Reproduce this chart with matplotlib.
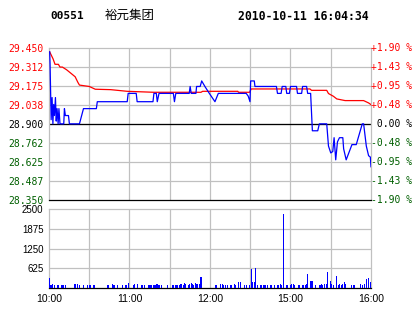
import matplotlib
matplotlib.use("Agg")
import matplotlib.pyplot as plt
from matplotlib.transforms import blended_transform_factory

# ---------------- data ----------------
title_code = "00551"
title_name = "裕元集团"
title_time = "2010-10-11 16:04:34"
prev_close = 28.90

price_ticks = [28.350, 28.487, 28.625, 28.762, 28.900, 29.038, 29.175, 29.312, 29.450]
price_labels = ["28.350", "28.487", "28.625", "28.762", "28.900",
                "29.038", "29.175", "29.312", "29.450"]
pct_labels = ["-1.90 %", "-1.43 %", "-0.95 %", "-0.48 %", " 0.00 %",
              "+0.48 %", "+0.95 %", "+1.43 %", "+1.90 %"]

vol_ticks = [625, 1250, 1875, 2500]
vol_tick_labels = ["625", "1250", "1875", "2500"]

time_ticks = [0, 60, 120, 180, 240]
time_labels = ["10:00", "11:00", "12:00", "15:00", "16:00"]

# minutes of trading since 10:00 (lunch removed)
price_t = [0.5, 0.8, 1.6, 2.3, 2.9, 3.5, 4.1, 4.8, 5.4, 6.0, 6.8, 7.4, 8.2, 11.0,
           11.5, 12.2, 14.5, 15.2, 22.7, 25.7, 35.3, 36.0, 58.3, 59.0, 65.0, 65.7,
           77.5, 78.2, 80.0, 80.7, 82.0, 92.7, 93.5, 94.5, 104.5, 105.2, 106.0,
           109.5, 110.0, 112.7, 113.8, 116.2, 119.5, 123.7, 126.2, 147.0, 148.5,
           149.8, 150.3, 153.0, 153.5, 169.5, 170.3, 173.0, 173.8, 176.5, 177.2,
           179.2, 180.0, 184.5, 185.2, 188.3, 189.0, 192.0, 192.8, 195.0, 196.3,
           200.3, 201.5, 207.0, 208.3, 210.0, 211.5, 212.5, 213.7, 215.0, 216.5,
           219.0, 219.6, 221.5, 225.8, 229.0, 233.5, 234.5, 236.5, 238.2, 239.5,
           240.0]
price_v = [29.42, 29.33, 28.93, 29.09, 28.90, 29.04, 28.96, 29.09, 28.92, 29.01,
           28.90, 29.01, 28.90, 28.90, 29.01, 28.96, 28.96, 28.90, 28.90, 29.01,
           29.01, 29.06, 29.06, 29.12, 29.12, 29.06, 29.06, 29.12, 29.12, 29.06,
           29.12, 29.12, 29.06, 29.12, 29.12, 29.17, 29.12, 29.12, 29.17, 29.17,
           29.21, 29.17, 29.12, 29.06, 29.12, 29.12, 29.10, 29.06, 29.21, 29.21,
           29.17, 29.17, 29.12, 29.12, 29.17, 29.17, 29.12, 29.12, 29.17, 29.17,
           29.12, 29.12, 29.17, 29.17, 29.12, 29.12, 28.85, 28.85, 28.90, 28.90,
           28.74, 28.69, 28.70, 28.80, 28.64, 28.77, 28.80, 28.80, 28.72, 28.64,
           28.75, 28.75, 28.90, 28.90, 28.74, 28.67, 28.66, 28.59]

avg_t = [0.5, 1.5, 3.0, 4.5, 7.0, 8.2, 10.0, 13.2, 17.0, 19.5, 21.5, 22.7, 30.0,
         34.5, 46.0, 58.3, 78.2, 113.3, 114.5, 140.8, 141.2, 149.5, 150.7, 194.5,
         195.7, 207.0, 208.3, 212.0, 214.5, 220.7, 234.5, 238.2, 240.0]
avg_v = [29.42, 29.40, 29.37, 29.33, 29.33, 29.31, 29.31, 29.29, 29.26, 29.24,
         29.20, 29.18, 29.17, 29.15, 29.147, 29.135, 29.128, 29.128, 29.135,
         29.135, 29.128, 29.128, 29.152, 29.152, 29.142, 29.142, 29.119, 29.099,
         29.08, 29.068, 29.068, 29.051, 29.039]

vol_t = [0.5, 1.5, 2.5, 4, 6, 7, 9, 10, 11, 12,
         19, 20, 21, 23, 26, 29, 30, 31, 33, 34,
         44, 47, 48, 49, 51, 55, 57, 58, 59, 63,
         64, 66, 69, 70, 71, 74, 75, 76, 78, 79,
         80, 81, 82, 84, 88, 92, 93, 94, 95, 96,
         97, 98, 99, 100, 101, 102, 104, 105, 106, 107,
         108, 109, 110, 111, 112, 113.3, 124, 125, 128, 129,
         130, 131.5, 133, 135, 136, 138, 139, 141, 143, 145.5,
         147, 149.5, 150.8, 152, 153, 153.8, 155.3, 158, 160, 161,
         163, 165, 166, 168, 170, 171, 172.5, 173.3, 175, 177,
         178, 180, 181, 182, 183, 186, 187, 189, 190, 191,
         192, 192.8, 195, 196, 198.8, 202, 203, 204, 205.5, 206.5,
         207.8, 209.5, 210.3, 212, 214, 215.5, 216.5, 218, 219, 220,
         221, 225.8, 226.8, 228, 232.5, 233.5, 235, 236.5, 238.2, 239.5,
         240.3]
vol_v = [340, 110, 120, 100, 110, 100, 100, 100, 110, 100,
         150, 150, 150, 100, 100, 100, 100, 110, 110, 100,
         90, 140, 100, 100, 100, 100, 100, 110, 160, 100,
         120, 140, 110, 100, 100, 100, 100, 100, 100, 100,
         130, 120, 100, 110, 100, 100, 100, 110, 100, 100,
         110, 120, 130, 110, 160, 120, 110, 130, 170, 140,
         110, 160, 120, 130, 120, 370, 100, 100, 120, 150,
         100, 100, 100, 100, 100, 150, 100, 190, 210, 100,
         100, 100, 610, 200, 200, 650, 100, 100, 100, 100,
         100, 100, 100, 100, 100, 100, 130, 100, 2340, 100,
         100, 110, 130, 120, 100, 100, 100, 100, 100, 100,
         130, 450, 240, 240, 100, 100, 120, 100, 150, 120,
         500, 240, 150, 100, 400, 100, 120, 100, 150, 210,
         150, 100, 100, 100, 130, 100, 150, 280, 320, 200,
         150]

# ---------------- drawing ----------------
W, H = 414, 314
fig = plt.figure(figsize=(W / 100, H / 100), dpi=100)
fig.patch.set_facecolor("white")


def rect(l, t, r, b):
    return [l / W, 1 - b / H, (r - l) / W, (b - t) / H]


RED = "#ff0000"
GREEN = "#005f00"
GRID = "#c0c0c0"
MONO = "DejaVu Sans Mono"
SANS = "Liberation Sans"
LW = 0.9

axp = fig.add_axes(rect(49, 47.7, 371, 200))
axv = fig.add_axes(rect(49, 209, 371, 288.3))

for ax in (axp, axv):
    ax.set_xlim(0, 240)
    for s in ("left", "right", "top"):
        ax.spines[s].set_color(GRID)
        ax.spines[s].set_linewidth(LW)
    ax.spines["bottom"].set_color("black")
    ax.spines["bottom"].set_linewidth(LW)
    for t in range(30, 240, 30):
        ax.axvline(t, color=GRID, lw=LW, zorder=1)
    ax.tick_params(length=0)
    ax.set_xticks([])

# price panel
axp.set_ylim(price_ticks[0], price_ticks[-1])
for p in price_ticks[1:-1]:
    axp.axhline(p, color=GRID, lw=LW, zorder=1)
axp.axhline(prev_close, color="black", lw=LW, zorder=2)
axp.set_yticks(price_ticks)
axp.set_yticklabels(price_labels, family=MONO, fontsize=7)
axp.tick_params(axis="y", pad=4)
for lbl, p in zip(axp.get_yticklabels(), price_ticks):
    if p > prev_close + 1e-6:
        lbl.set_color(RED)
    elif p < prev_close - 1e-6:
        lbl.set_color(GREEN)
    else:
        lbl.set_color("black")

tr = blended_transform_factory(axp.transAxes, axp.transData)
for p, s in zip(price_ticks, pct_labels):
    c = RED if p > prev_close + 1e-6 else (GREEN if p < prev_close - 1e-6 else "black")
    axp.text(1.0, p, s, transform=tr, ha="left", va="center",
             family=MONO, fontsize=7, color=c, clip_on=False)

axp.plot(avg_t, avg_v, color=RED, lw=LW, zorder=3)
axp.plot(price_t, price_v, color="#0000ff", lw=LW, zorder=4)

# volume panel
axv.set_ylim(0, 2500)
for v in vol_ticks[:-1]:
    axv.axhline(v, color=GRID, lw=LW, zorder=1)
axv.set_yticks(vol_ticks)
axv.set_yticklabels(vol_tick_labels, family=SANS, fontsize=7)
axv.tick_params(axis="y", pad=4)
axv.bar(vol_t, vol_v, width=0.8, color="#0000ff", zorder=3)
axv.set_xticks(time_ticks)
axv.set_xticklabels(time_labels, family=SANS, fontsize=7.5)
axv.tick_params(axis="x", pad=4, length=0)

# titles
fig.text(50 / W, 1 - 16 / H, title_code, family=MONO, weight="bold",
         fontsize=8, va="center", ha="left")
fig.text(105 / W, 1 - 15.5 / H, title_name, family=["Noto Sans CJK SC", "DejaVu Sans"],
         fontsize=9, va="center", ha="left")
fig.text(238 / W, 1 - 16 / H, title_time, family=MONO, weight="bold",
         fontsize=8.3, va="center", ha="left")

fig.savefig("out.png", dpi=100, facecolor="white")
